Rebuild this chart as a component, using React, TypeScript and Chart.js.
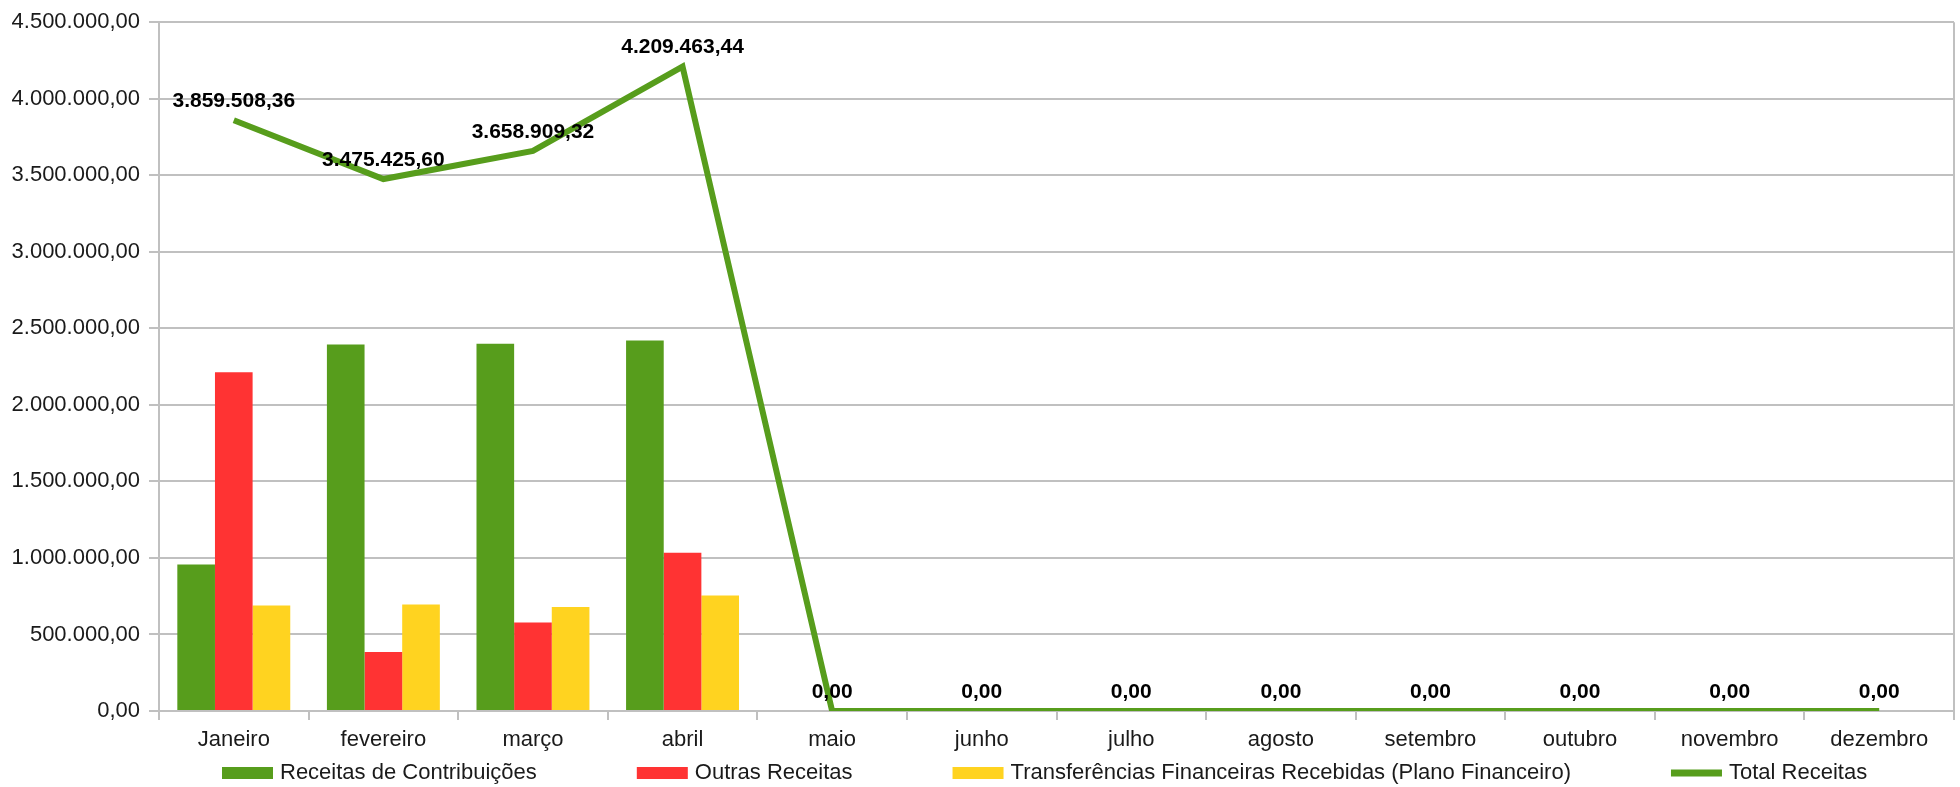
import React, { useEffect, useRef } from 'react';
import { Chart, registerables } from 'chart.js';

Chart.register(...registerables);

const months = ['Janeiro', 'fevereiro', 'março', 'abril', 'maio', 'junho', 'julho', 'agosto', 'setembro', 'outubro', 'novembro', 'dezembro'];
const receitasContribuicoes = [957000, 2395000, 2400000, 2420000, 0, 0, 0, 0, 0, 0, 0, 0];
const outrasReceitas = [2212508.36, 385425.6, 578909.32, 1034463.44, 0, 0, 0, 0, 0, 0, 0, 0];
const transferencias = [690000, 695000, 680000, 755000, 0, 0, 0, 0, 0, 0, 0, 0];
const totalReceitas = [3859508.36, 3475425.6, 3658909.32, 4209463.44, 0, 0, 0, 0, 0, 0, 0, 0];
const seriesNames = ['Receitas de Contribuições', 'Outras Receitas', 'Transferências Financeiras Recebidas (Plano Financeiro)', 'Total Receitas'];
const seriesColors = ['#579d1c', '#ff3333', '#ffd320', '#579d1c'];
const yMax = 4500000;
const yStep = 500000;

const FONT = '"Liberation Sans", Arial, sans-serif';

function fmt(v: number): string {
  const neg = v < 0;
  const fixed = Math.abs(v).toFixed(2);
  const [i, d] = fixed.split('.');
  const withDots = i.replace(/\B(?=(\d{3})+(?!\d))/g, '.');
  return (neg ? '-' : '') + withDots + ',' + d;
}

const lineLabelsPlugin = {
  id: 'lineLabels',
  afterDatasetsDraw(chart: any) {
    const meta = chart.getDatasetMeta(3);
    const ctx = chart.ctx;
    ctx.save();
    ctx.font = `bold 21px ${FONT}`;
    ctx.fillStyle = '#000';
    ctx.textAlign = 'center';
    ctx.textBaseline = 'middle';
    meta.data.forEach((pt: any, i: number) => {
      ctx.fillText(fmt(totalReceitas[i]), pt.x, pt.y - 19);
    });
    ctx.restore();
  },
};

const customLegendPlugin = {
  id: 'customLegend',
  afterDraw(chart: any) {
    const ctx = chart.ctx;
    ctx.save();
    ctx.font = `22px ${FONT}`;
    const boxW = 51;
    const gapBox = 7;
    const gapItem = 100;
    let x = 222;
    const y = 773;
    seriesNames.forEach((n, i) => {
      ctx.fillStyle = seriesColors[i];
      if (i === 3) {
        ctx.fillRect(x, y - 3.5, boxW, 7);
      } else {
        ctx.fillRect(x, y - 6, boxW, 12);
      }
      ctx.fillStyle = '#1a1a1a';
      ctx.textAlign = 'left';
      ctx.textBaseline = 'middle';
      ctx.fillText(n, x + boxW + gapBox, y);
      x += boxW + gapBox + ctx.measureText(n).width + gapItem;
    });
    ctx.restore();
  },
};

export default function App() {
  const ref = useRef<HTMLCanvasElement>(null);
  useEffect(() => {
    if (!ref.current) return;
    const gray = '#c0c0c0';
    const chart = new Chart(ref.current, {
      type: 'bar',
      data: {
        labels: months,
        datasets: [
          { type: 'bar', label: seriesNames[0], data: receitasContribuicoes, backgroundColor: seriesColors[0], order: 2 },
          { type: 'bar', label: seriesNames[1], data: outrasReceitas, backgroundColor: seriesColors[1], order: 2 },
          { type: 'bar', label: seriesNames[2], data: transferencias, backgroundColor: seriesColors[2], order: 2 },
          {
            type: 'line', label: seriesNames[3], data: totalReceitas, borderColor: seriesColors[3], backgroundColor: seriesColors[3],
            borderWidth: 6, pointRadius: 0, tension: 0, order: 1, borderJoinStyle: 'miter',
          } as any,
        ],
      },
      options: {
        responsive: false,
        animation: false,
        devicePixelRatio: 1,
        layout: { padding: { top: 19, right: 6, bottom: 36, left: 0 } },
        datasets: { bar: { categoryPercentage: 0.755, barPercentage: 1 } },
        plugins: { legend: { display: false }, tooltip: { enabled: false } },
        scales: {
          x: {
            offset: true,
            grid: {
              offset: true,
              color: (c: any) => (c.index === 0 || c.type === 'scale' ? gray : 'rgba(0,0,0,0)'),
              tickColor: gray,
              tickLength: 9,
              lineWidth: 2,
            },
            border: { display: true, color: gray, width: 2 },
            ticks: { font: { family: FONT, size: 22 }, color: '#1a1a1a', padding: 7, maxRotation: 0, autoSkip: false },
            afterFit: (s: any) => { s.height = 40; },
          },
          y: {
            min: 0,
            max: yMax,
            ticks: { stepSize: yStep, font: { family: FONT, size: 22 }, color: '#1a1a1a', padding: 9, callback: (v: any) => fmt(Number(v)) },
            grid: { color: gray, tickColor: gray, tickLength: 10, lineWidth: 2 },
            border: { display: true, color: gray, width: 2 },
            afterFit: (s: any) => { s.width = 159; },
          },
        },
      },
      plugins: [lineLabelsPlugin, customLegendPlugin],
    });
    return () => chart.destroy();
  }, []);
  return (
    <div style={{ position: 'fixed', left: 0, top: 0, width: 1960, height: 787, background: '#fff' }}>
      <canvas ref={ref} width={1960} height={787} style={{ display: 'block' }} />
    </div>
  );
}
